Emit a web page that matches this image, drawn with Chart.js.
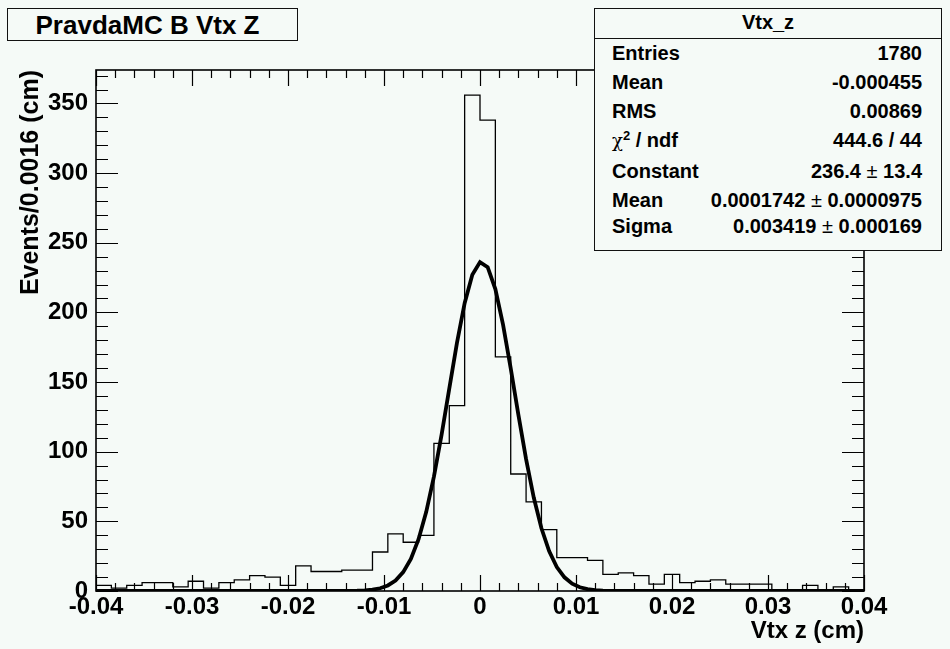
<!DOCTYPE html>
<html>
<head>
<meta charset="utf-8">
<title>PravdaMC B Vtx Z</title>
<script src="https://cdn.jsdelivr.net/npm/chart.js@4.4.1/dist/chart.umd.min.js"></script>
<style>
    body { margin: 0; background: #f5faf7; }
    #wrap {
        position: relative; width: 950px; height: 649px; overflow: hidden;
        font-family: "Liberation Sans", Arial, sans-serif; font-weight: bold; color: #000;
    }
    #plot { position: absolute; left: 0; top: 0; }
    .box { position: absolute; border: 1px solid #111; box-sizing: border-box; background: #f5faf7; }
    #title {
        left: 7px; top: 8px; width: 291px; height: 33px;
        font-size: 26px; line-height: 32px; text-align: center; padding-right: 10px;
    }
    #stats { left: 594px; top: 8px; width: 348px; height: 243px; font-size: 20px; }
    #stats .hdr {
        position: absolute; left: 0; right: 0; top: 0; height: 29px;
        line-height: 26px; text-align: center; border-bottom: 1px solid #111;
    }
    #stats .row { position: absolute; left: 17px; right: 19px; height: 24px; line-height: 24px; white-space: nowrap; }
    #stats .row .v { position: absolute; right: 0; top: 0; }
    .pm { font-weight: normal; }
    .chi { font-family: "DejaVu Serif", serif; font-weight: normal; font-size: 18px; }
    .sup { font-size: 13px; position: relative; top: -7px; }
</style>
</head>
<body>
<div id="wrap">
    <canvas id="plot" width="950" height="649"></canvas>
    <div class="box" id="title">PravdaMC B Vtx Z</div>
    <div class="box" id="stats"></div>
</div>
<script>
// HISTOGRAM DATA (50 bins of 0.0016 cm)
const histName = 'Vtx_z';
const binLow = -0.04;
const binWidth = 0.0016;
const binCounts = [
    4, 2, 4, 6, 6, 3, 7, 2, 6, 8,
    11, 10, 4, 18, 14, 14, 15, 15, 28, 41,
    35, 40, 106, 133, 356, 338, 168, 84, 64, 44,
    24, 24, 22, 12, 13, 11, 5, 12, 6, 7,
    8, 5, 5, 5, 1, 1, 4, 1, 3, 0
];

// STATISTICS AND GAUSSIAN FIT RESULT
const entries = 1780;
const histMean = '-0.000455';
const histRms = '0.00869';
const chi2 = '444.6';
const ndf = 44;
const fitConstant = 236.4, fitConstantErr = '13.4';
const fitMean = 0.0001742, fitMeanErr = '0.0000975';
const fitSigma = 0.003419, fitSigmaErr = '0.000169';
const fitPoints = 100;

// AXES
const xMin = -0.04, xMax = 0.04;
const xMajorStep = 0.01, xMinorStep = 0.002;
const yMin = 0, yMax = 374;
const yMajorStep = 50, yMinorStep = 10;

// step outline: point i sits on the low edge of bin i and carries its count,
// stepped 'before' holds that level until the next edge
const histPoints = [];
for (let i = 0; i <= binCounts.length; i++) {
    histPoints.push({ x: binLow + i * binWidth, y: binCounts[Math.min(i, binCounts.length - 1)] });
}

// fitted gaussian, sampled like TF1 does (npx = 100)
const fitCurve = [];
for (let i = 0; i <= fitPoints; i++) {
    const x = xMin + (xMax - xMin) * i / fitPoints;
    const t = (x - fitMean) / fitSigma;
    fitCurve.push({ x: x, y: fitConstant * Math.exp(-0.5 * t * t) });
}

// STATS BOX
function fillStats() {
    const rows = [
        ['Entries', String(entries), 32],
        ['Mean', histMean, 61],
        ['RMS', histRms, 90],
        ['<span class="chi">&chi;</span><span class="sup">2</span> / ndf', chi2 + ' / ' + ndf, 119],
        ['Constant', fitConstant.toFixed(1) + ' <span class="pm">&plusmn;</span> ' + fitConstantErr, 150],
        ['Mean', fitMean.toFixed(7) + ' <span class="pm">&plusmn;</span> ' + fitMeanErr, 179],
        ['Sigma', fitSigma.toFixed(6) + ' <span class="pm">&plusmn;</span> ' + fitSigmaErr, 205]
    ];
    let html = '<div class="hdr">' + histName + '</div>';
    rows.forEach(r => {
        html += '<div class="row" style="top:' + r[2] + 'px">' + r[0] + '<span class="v">' + r[1] + '</span></div>';
    });
    document.getElementById('stats').innerHTML = html;
}
fillStats();

// ROOT style frame with inward ticks on all four sides
const rootFrame = {
    id: 'rootFrame',
    afterDatasetsDraw(chart) {
        const { ctx, chartArea: a, scales: { x, y } } = chart;
        ctx.save();
        ctx.strokeStyle = '#000';
        ctx.lineWidth = 1.2;
        ctx.beginPath();
        const nx = Math.round((xMax - xMin) / xMinorStep);
        const perMajorX = Math.round(xMajorStep / xMinorStep);
        for (let i = 0; i <= nx; i++) {
            const px = Math.round(x.getPixelForValue(xMin + i * xMinorStep)) + 0.5;
            const len = i % perMajorX === 0 ? 16 : 8;
            ctx.moveTo(px, a.bottom); ctx.lineTo(px, a.bottom - len);
            ctx.moveTo(px, a.top); ctx.lineTo(px, a.top + len);
        }
        const perMajorY = Math.round(yMajorStep / yMinorStep);
        for (let i = 0; yMin + i * yMinorStep <= yMax; i++) {
            const py = Math.round(y.getPixelForValue(yMin + i * yMinorStep)) + 0.5;
            const len = i % perMajorY === 0 ? 22 : 12;
            ctx.moveTo(a.left, py); ctx.lineTo(a.left + len, py);
            ctx.moveTo(a.right, py); ctx.lineTo(a.right - len, py);
        }
        ctx.stroke();
        ctx.lineWidth = 1.6;
        ctx.strokeRect(a.left, a.top, a.right - a.left, a.bottom - a.top);
        ctx.restore();
    }
};

const labelFont = { family: '"Liberation Sans", Arial, sans-serif', weight: 'bold', size: 24 };

// CHART
const chart = new Chart(document.getElementById('plot'), {
    type: 'line',
    data: {
        datasets: [{
            label: 'gaus',
            data: fitCurve,
            borderColor: '#000',
            borderWidth: 3.8,
            pointRadius: 0,
            tension: 0,
            order: 0
        }, {
            label: histName,
            data: histPoints,
            stepped: 'before',
            borderColor: '#000',
            borderWidth: 1.3,
            pointRadius: 0,
            fill: false,
            order: 1
        }]
    },
    options: {
        responsive: false,
        animation: false,
        events: [],
        layout: { padding: { top: 70, right: 86, left: 0, bottom: 0 } },
        plugins: { legend: { display: false }, tooltip: { enabled: false } },
        scales: {
            x: {
                type: 'linear',
                min: xMin,
                max: xMax,
                grid: { display: false, drawTicks: false },
                border: { display: false },
                ticks: {
                    stepSize: xMajorStep,
                    includeBounds: false,
                    autoSkip: false,
                    maxRotation: 0,
                    padding: 2,
                    color: '#000',
                    font: labelFont,
                    callback: v => String(Number(v.toFixed(2)))
                },
                title: {
                    display: true,
                    text: 'Vtx z (cm)',
                    align: 'end',
                    color: '#000',
                    font: labelFont,
                    padding: { top: 0, bottom: 3 }
                },
                afterFit: s => { s.height = 58; }
            },
            y: {
                type: 'linear',
                min: yMin,
                max: yMax,
                grid: { display: false, drawTicks: false },
                border: { display: false },
                ticks: {
                    stepSize: yMajorStep,
                    includeBounds: false,
                    padding: 8,
                    color: '#000',
                    font: labelFont
                },
                title: {
                    display: true,
                    text: 'Events/0.0016 (cm)',
                    align: 'end',
                    color: '#000',
                    font: { family: '"Liberation Sans", Arial, sans-serif', weight: 'bold', size: 25 },
                    padding: { top: 16, bottom: 0 }
                },
                afterFit: s => { s.width = 96; }
            }
        }
    },
    plugins: [rootFrame]
});
</script>
</body>
</html>
